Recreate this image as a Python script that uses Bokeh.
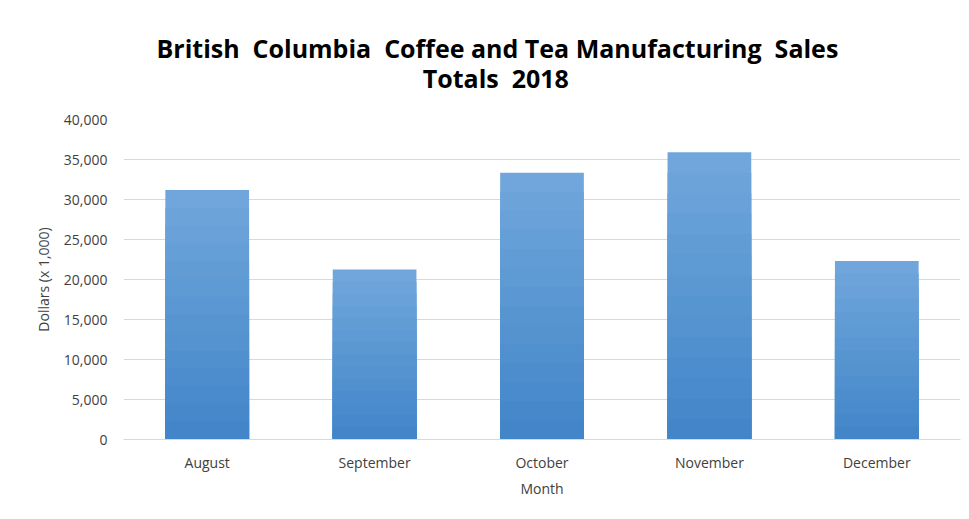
from bokeh.plotting import figure
from bokeh.models import ColumnDataSource, Title, NumeralTickFormatter, FixedTicker, Range1d
from bokeh.embed import file_html
from bokeh.resources import INLINE

months = ["August", "September", "October", "November", "December"]
sales = [31200, 21250, 33350, 35900, 22300]
y_ticks = [0, 5000, 10000, 15000, 20000, 25000, 30000, 35000, 40000]
title_lines = ["British\u00a0 Columbia\u00a0 Coffee and Tea Manufacturing\u00a0 Sales",
               "Totals\u00a0 2018"]

FONT = "Open Sans"

p = figure(x_range=months, y_range=Range1d(0, 40000), width=969, height=519,
           output_backend="svg", toolbar_location=None,
           min_border_left=123, min_border_right=9, min_border_top=119, min_border_bottom=80)

# gradient-like bars: stacked layers from light (top) to dark (bottom)
light = (112, 166, 219)
dark = (66, 134, 201)
n = 14
for k in range(n):
    f = 1 - k / n
    t = k / (n - 1)
    c = tuple(int(round(light[i] + (dark[i] - light[i]) * t)) for i in range(3))
    col = "#%02x%02x%02x" % c
    src = ColumnDataSource(dict(x=months, top=[v * f for v in sales]))
    p.vbar(x="x", top="top", width=0.5, source=src, fill_color=col, line_color=None)

# second line indented with no-break spaces so that it sits centred under the first
title_text = title_lines[0] + "\n" + "\u00a0" * 41 + title_lines[1]
p.title = Title(text=title_text, align="left", offset=33, standoff=49,
                text_font=FONT, text_font_size="25px", text_font_style="bold",
                text_color="#000000", text_line_height=0.88)

p.yaxis.ticker = FixedTicker(ticks=y_ticks)
p.yaxis.formatter = NumeralTickFormatter(format="0,0")
p.yaxis.axis_label = "Dollars (x 1,000)"
p.xaxis.axis_label = "Month"
for ax in (p.xaxis, p.yaxis):
    ax.major_label_text_font = FONT
    ax.major_label_text_font_size = "14px"
    ax.major_label_text_color = "#404040"
    ax.axis_label_text_font = FONT
    ax.axis_label_text_font_size = "14px"
    ax.axis_label_text_font_style = "normal"
    ax.axis_label_text_color = "#404040"
    ax.major_tick_line_color = None
    ax.minor_tick_line_color = None
p.yaxis.axis_line_color = None
p.xaxis.axis_line_color = "#d9d9d9"
p.xaxis.major_label_standoff = 7
p.yaxis.major_label_standoff = 10
p.xaxis.axis_label_standoff = 4
p.yaxis.axis_label_standoff = 8

p.xgrid.grid_line_color = None
p.ygrid.grid_line_color = "#d9d9d9"
p.ygrid.ticker = FixedTicker(ticks=y_ticks)
p.outline_line_color = None

open("out.html", "w").write(file_html(p, INLINE))
